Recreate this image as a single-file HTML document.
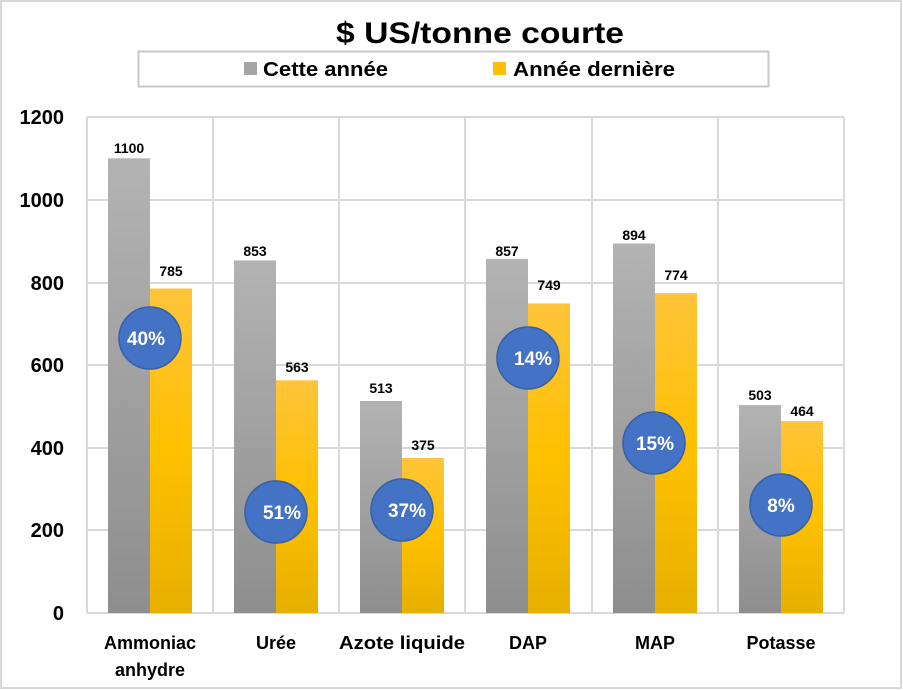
<!DOCTYPE html>
<html><head><meta charset="utf-8"><style>html,body{margin:0;padding:0;background:#fff}svg{display:block}text{font-family:"Liberation Sans",Arial,sans-serif;font-weight:bold}</style></head><body>
<svg width="903" height="690" viewBox="0 0 903 690" xmlns="http://www.w3.org/2000/svg">
<defs>
<linearGradient id="g" x1="0" y1="0" x2="0" y2="1"><stop offset="0" stop-color="#b3b3b3"/><stop offset="1" stop-color="#8e8e8e"/></linearGradient>
<linearGradient id="y" x1="0" y1="0" x2="0" y2="1"><stop offset="0" stop-color="#ffc43a"/><stop offset="0.5" stop-color="#ffc000"/><stop offset="1" stop-color="#e6b000"/></linearGradient>
</defs>
<rect x="1" y="1" width="900" height="687" fill="#fff" stroke="#d9d9d9" stroke-width="2"/>
<text x="480" y="43" font-size="30" text-anchor="middle" textLength="288" lengthAdjust="spacingAndGlyphs">$ US/tonne courte</text>
<rect x="138.5" y="51.5" width="630" height="35" fill="#fff" stroke="#c8c8c8" stroke-width="2"/>
<rect x="244" y="62" width="13" height="13" fill="#a6a6a6"/>
<text x="263" y="76" font-size="20" textLength="125" lengthAdjust="spacingAndGlyphs">Cette année</text>
<rect x="493" y="62" width="13" height="13" fill="#ffc000"/>
<text x="513" y="76" font-size="20" textLength="162" lengthAdjust="spacingAndGlyphs">Année dernière</text>
<g stroke="#d9d9d9" stroke-width="2" fill="none">
<line x1="87" y1="117" x2="844" y2="117"/><line x1="87" y1="200" x2="844" y2="200"/><line x1="87" y1="283" x2="844" y2="283"/><line x1="87" y1="365" x2="844" y2="365"/><line x1="87" y1="448" x2="844" y2="448"/><line x1="87" y1="530" x2="844" y2="530"/><line x1="87" y1="613" x2="844" y2="613"/>
<line x1="87" y1="117" x2="87" y2="613"/><line x1="213" y1="117" x2="213" y2="613"/><line x1="339" y1="117" x2="339" y2="613"/><line x1="465" y1="117" x2="465" y2="613"/><line x1="592" y1="117" x2="592" y2="613"/><line x1="718" y1="117" x2="718" y2="613"/><line x1="844" y1="117" x2="844" y2="613"/>
</g>
<g font-size="20" text-anchor="end">
<text x="64" y="124">1200</text><text x="64" y="207">1000</text><text x="64" y="290">800</text><text x="64" y="372">600</text><text x="64" y="455">400</text><text x="64" y="537">200</text><text x="64" y="620">0</text>
</g>
<!-- bars: y = 613 - v*0.41333 -->
<g>
<rect x="108" y="158.3" width="42" height="454.7" fill="url(#g)"/><rect x="150" y="288.5" width="42" height="324.5" fill="url(#y)"/>
<rect x="234" y="260.4" width="42" height="352.6" fill="url(#g)"/><rect x="276" y="380.3" width="42" height="232.7" fill="url(#y)"/>
<rect x="360" y="401" width="42" height="212" fill="url(#g)"/><rect x="402" y="458" width="42" height="155" fill="url(#y)"/>
<rect x="486" y="258.8" width="42" height="354.2" fill="url(#g)"/><rect x="528" y="303.4" width="42" height="309.6" fill="url(#y)"/>
<rect x="613" y="243.5" width="42" height="369.5" fill="url(#g)"/><rect x="655" y="293.1" width="42" height="319.9" fill="url(#y)"/>
<rect x="739" y="405.1" width="42" height="207.9" fill="url(#g)"/><rect x="781" y="421.2" width="42" height="191.8" fill="url(#y)"/>
</g>
<g font-size="14" text-anchor="middle">
<text x="129" y="153">1100</text><text x="171" y="276">785</text>
<text x="255" y="256">853</text><text x="297" y="372">563</text>
<text x="381" y="393">513</text><text x="423" y="450">375</text>
<text x="507" y="256">857</text><text x="549" y="290">749</text>
<text x="634" y="240">894</text><text x="676" y="280">774</text>
<text x="760" y="400">503</text><text x="802" y="416">464</text>
</g>
<g fill="#4472c4" stroke="#3560a8" stroke-width="1.5">
<circle cx="150" cy="338" r="31"/><circle cx="276" cy="512" r="31"/><circle cx="402" cy="510" r="31"/><circle cx="528" cy="358" r="31"/><circle cx="654" cy="443" r="31"/><circle cx="781" cy="505" r="31"/>
</g>
<g font-size="19" fill="#fff" text-anchor="middle">
<text x="146" y="345">40%</text><text x="282" y="519">51%</text><text x="407" y="517">37%</text><text x="533" y="365">14%</text><text x="655" y="450">15%</text><text x="781" y="512">8%</text>
</g>
<g font-size="18" text-anchor="middle">
<text x="150" y="649">Ammoniac</text><text x="150" y="676">anhydre</text>
<text x="276" y="649">Urée</text><text x="402" y="649" textLength="126" lengthAdjust="spacingAndGlyphs">Azote liquide</text>
<text x="528" y="649">DAP</text><text x="655" y="649">MAP</text><text x="781" y="649">Potasse</text>
</g>
</svg>
</body></html>
